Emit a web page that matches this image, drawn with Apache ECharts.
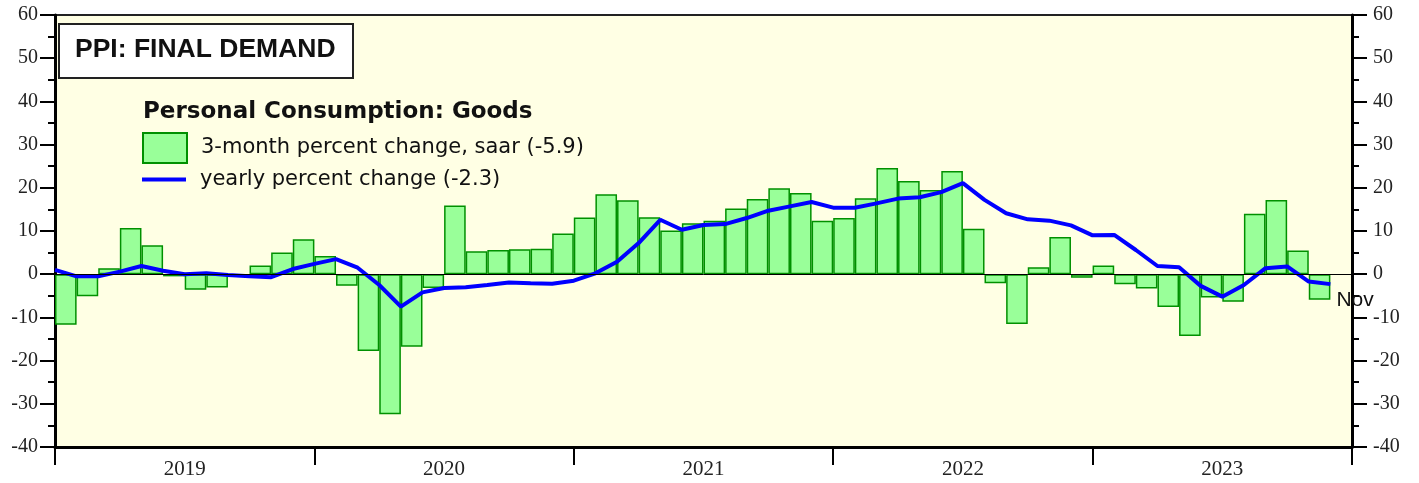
<!DOCTYPE html>
<html>
<head>
<meta charset="utf-8">
<script src="https://cdn.jsdelivr.net/npm/echarts@6/dist/echarts.min.js"></script>
<style>
  html, body { margin: 0; padding: 0; background: #fff; }
  #chart { width: 1419px; height: 483px; }
</style>
</head>
<body>
<div id="chart"></div>
<script>
// months Jan 2019 .. Dec 2023
const months = [];
for (let y = 2019; y <= 2023; y++) {
    for (let m = 1; m <= 12; m++) months.push(y + "-" + m);
}

// 3-month percent change, saar (bars, Jan 2019 .. Nov 2023)
const threeMonth = [
    -11.7, -5.1, 1.4, 10.7, 6.7, -0.5, -3.6, -3.1, -0.2, 2.0, 5.0, 8.1,
    4.2, -2.7, -17.8, -32.4, -16.8, -3.2, 15.9, 5.3, 5.6, 5.8, 5.9, 9.4,
    13.1, 18.5, 17.1, 13.2, 10.1, 11.8, 12.4, 15.2, 17.4, 19.9, 18.8, 12.4,
    13.0, 17.6, 24.6, 21.6, 19.5, 23.9, 10.5, -2.1, -11.5, 1.6, 8.6, -0.8,
    2.0, -2.3, -3.3, -7.6, -14.3, -5.4, -6.4, 14.0, 17.2, 5.5, -5.9
];

// yearly percent change, month-end values Dec 2018 .. Nov 2023
const yearly = [
    1.0, -0.5, -0.5, 0.6, 1.9, 0.8, 0.0, 0.2, -0.2, -0.5, -0.7, 1.2,
    2.4, 3.5, 1.5, -2.5, -7.5, -4.2, -3.2, -3.0, -2.5, -1.9, -2.1, -2.2,
    -1.5, 0.2, 2.9, 7.2, 12.6, 10.3, 11.4, 11.6, 13.0, 14.7, 15.7, 16.7,
    15.4, 15.4, 16.4, 17.5, 17.8, 19.0, 21.1, 17.2, 14.1, 12.7, 12.4, 11.3,
    9.0, 9.1, 5.6, 1.9, 1.6, -2.7, -5.2, -2.5, 1.4, 1.8, -1.7, -2.3
];

const years = ["2019", "2020", "2021", "2022", "2023"];

const serif = "'Liberation Serif', 'Times New Roman', serif";
const sans = "'Liberation Sans', Arial, sans-serif";
const wide = "'DejaVu Sans', Verdana, sans-serif";

const barName = "3-month percent change, saar (-5.9)";
const lineName = "yearly percent change (-2.3)";

function yAxis(pos, margin) {
    return {
        type: "value", position: pos, min: -40, max: 60, interval: 10,
        axisLine: { show: true, onZero: false, lineStyle: { color: "#000", width: 3 } },
        axisTick: { show: true, length: 15, lineStyle: { color: "#000", width: 2 } },
        minorTick: { show: true, splitNumber: 2, length: 7, lineStyle: { color: "#000", width: 2 } },
        splitLine: { show: false },
        axisLabel: { margin: margin, fontFamily: serif, fontSize: 20, color: "#222" }
    };
}

const chart = echarts.init(document.getElementById("chart"), null, { renderer: "canvas" });
chart.setOption({
    animation: false,
    grid: {
        left: 55, right: 67, top: 15, bottom: 36,
        show: true, backgroundColor: "#FFFFE4", borderColor: "#222", borderWidth: 2
    },
    legend: [
        {
            left: 142, top: 132, padding: 0,
            itemWidth: 44, itemHeight: 30,
            icon: "rect",
            textStyle: { fontFamily: wide, fontSize: 21, color: "#111", padding: [0, 0, 14, 9] },
            data: [barName]
        },
        {
            left: 142, top: 169, padding: 0,
            itemWidth: 44, itemHeight: 4,
            icon: "rect",
            itemStyle: { color: "#0000FF", borderWidth: 0 },
            textStyle: { fontFamily: wide, fontSize: 21, color: "#111", padding: [0, 0, 0, 9] },
            data: [lineName]
        }
    ],
    xAxis: [
        { type: "category", data: months, show: false, boundaryGap: true },
        {
            type: "value", min: 0, max: 60, interval: 12, position: "bottom",
            axisLine: { show: true, onZero: false, lineStyle: { color: "#000", width: 3 } },
            axisTick: { show: true, length: 18, lineStyle: { color: "#000", width: 2 } },
            axisLabel: { show: false },
            splitLine: { show: false }
        },
        {
            type: "value", min: 0, max: 60, interval: 6, position: "bottom",
            axisLine: { show: false, onZero: false }, axisTick: { show: false }, splitLine: { show: false },
            axisLabel: {
                margin: 12, fontFamily: serif, fontSize: 21, color: "#222",
                formatter: v => (v % 12 === 6 ? years[(v - 6) / 12] : "")
            }
        }
    ],
    yAxis: [yAxis("left", 17), yAxis("right", 21)],
    series: [
        {
            name: barName,
            type: "bar", xAxisIndex: 0, yAxisIndex: 0,
            data: threeMonth,
            barCategoryGap: 0,
            itemStyle: { color: "#99FF99", borderColor: "#009000", borderWidth: 1.5 },
            markLine: {
                silent: true, symbol: "none", label: { show: false },
                lineStyle: { color: "#000", width: 1, type: "solid" },
                data: [{ yAxis: 0 }]
            },
            z: 2
        },
        {
            name: lineName,
            type: "line", xAxisIndex: 1, yAxisIndex: 0,
            data: yearly.map((v, k) => [k, v]),
            showSymbol: false, symbol: "none",
            lineStyle: { color: "#0000FF", width: 4 },
            itemStyle: { color: "#0000FF" },
            endLabel: {
                show: true, formatter: "Nov", offset: [-2, 16],
                fontFamily: sans, fontSize: 21, color: "#111"
            },
            z: 3
        }
    ],
    graphic: [
        {
            type: "rect", left: 58, top: 23, z: 10,
            shape: { width: 294, height: 54 },
            style: { fill: "#fff", stroke: "#222", lineWidth: 2 }
        },
        {
            type: "text", z: 11,
            style: {
                x: 75, y: 50, text: "PPI: FINAL DEMAND", font: "bold 26.5px " + sans,
                fill: "#111", textVerticalAlign: "middle"
            }
        },
        {
            type: "text", z: 11,
            style: {
                x: 143, y: 112, text: "Personal Consumption: Goods", font: "bold 23px " + wide,
                fill: "#111", textVerticalAlign: "middle"
            }
        }
    ]
});
</script>
</body>
</html>
